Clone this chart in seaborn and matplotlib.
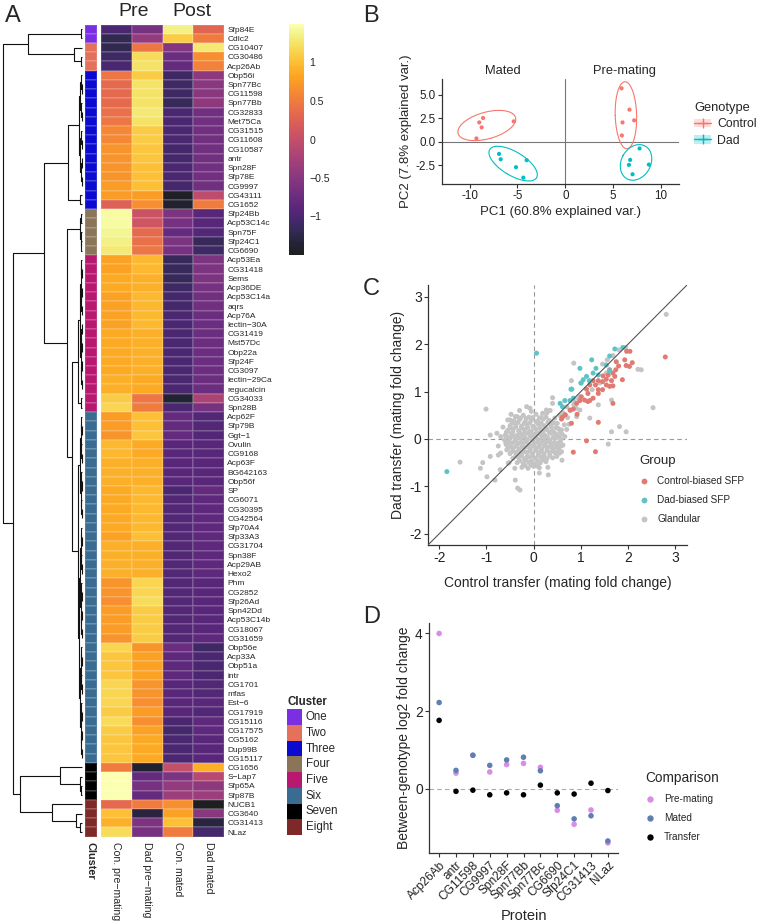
import numpy as np
import pandas as pd
import matplotlib
matplotlib.use("Agg")
import matplotlib.pyplot as plt
import seaborn as sns
from matplotlib.colors import ListedColormap
from matplotlib.lines import Line2D
from matplotlib.patches import Patch, Rectangle

sns.set_theme(style="ticks")
plt.rcParams["font.family"] = ["Liberation Sans", "DejaVu Sans"]
plt.rcParams["axes.unicode_minus"] = False

# =========================
# DATA - panel A (row-scaled abundance)
# =========================
genes = ["Sfp84E", "Cdlc2", "CG10407", "CG30486", "Acp26Ab", "Obp56i", "Spn77Bc", "CG11598",
         "Spn77Bb", "CG32833", "Met75Ca", "CG31515", "CG11608", "CG10587", "antr", "Spn28F",
         "Sfp78E", "CG9997", "CG43111", "CG1652", "Sfp24Bb", "Acp53C14c", "Spn75F", "Sfp24C1",
         "CG6690", "Acp53Ea", "CG31418", "Sems", "Acp36DE", "Acp53C14a", "aqrs", "Acp76A",
         "lectin\u221230A", "CG31419", "Mst57Dc", "Obp22a", "Sfp24F", "CG3097", "lectin\u221229Ca",
         "regucalcin", "CG34033", "Spn28B", "Acp62F", "Sfp79B", "Ggt\u22121", "Ovulin", "CG9168",
         "Acp63F", "BG642163", "Obp56f", "SP", "CG6071", "CG30395", "CG42564", "Sfp70A4",
         "Sfp33A3", "CG31704", "Spn38F", "Acp29AB", "Hexo2", "Phm", "CG2852", "Sfp26Ad",
         "Spn42Dd", "Acp53C14b", "CG18067", "CG31659", "Obp56e", "Acp33A", "Obp51a", "intr",
         "CG1701", "mfas", "Est\u22126", "CG17919", "CG15116", "CG17575", "CG5162", "Dup99B",
         "CG15117", "CG1656", "S\u2212Lap7", "Sfp65A", "Sfp87B", "NUCB1", "CG3640", "CG31413", "NLaz"]

cluster_names = ["One", "Two", "Three", "Four", "Five", "Six", "Seven", "Eight"]
cluster_sizes = [2, 3, 15, 5, 17, 38, 4, 4]
cluster_colors = ["#7B2FE3", "#E5715B", "#0A0AD0", "#8B7558", "#B8186F", "#3A6C92", "#000000", "#7E2828"]

con_pre = [-1.0, -1.2, -1.2, -1.1, -1.0, 0.45, 0.35, 0.35, 0.35, 0.4, 0.45, 0.6, 0.6, 0.7, 0.7, 0.7,
           0.7, 0.75, 0.75, 0.25, 1.45, 1.45, 1.4, 1.35, 1.3, 0.8, 0.8, 0.85, 0.85, 0.8, 0.8, 0.8,
           0.8, 0.85, 0.85, 0.85, 0.85, 0.85, 0.9, 0.9, 1.1, 1.15, 0.75, 0.75, 0.7, 0.95, 0.95,
           0.9, 0.9, 0.9, 0.85, 0.85, 0.85, 0.85, 0.85, 0.8, 0.9, 0.9, 0.9, 0.9, 0.7, 0.7, 0.65,
           0.75, 0.75, 0.75, 0.7, 1.15, 1.05, 1.05, 1.05, 1.15, 1.15, 1.15, 1.1, 1.2, 1.1, 1.05,
           1.05, 1.05, 0.5, 1.5, 1.5, 1.5, 0.35, 1.0, 0.9, 1.2]
dad_pre = [-0.65, -0.4, 0.45, 1.2, 1.25, 1.1, 1.25, 1.25, 1.25, 1.3, 1.25, 1.1, 1.1, 1.05, 1.05, 1.0,
           1.0, 1.0, 0.75, 0.65, 0.05, 0.1, 0.35, 0.4, 0.45, 0.95, 0.95, 0.9, 0.9, 0.95, 0.95, 0.95,
           0.95, 0.9, 0.9, 0.9, 0.9, 0.9, 0.85, 0.85, 0.45, 0.5, 1.0, 1.0, 1.05, 0.85, 0.85,
           0.9, 0.9, 0.9, 0.95, 0.95, 0.95, 0.95, 0.95, 1.0, 0.9, 0.9, 0.9, 0.9, 1.15, 1.15, 1.2,
           1.1, 1.1, 1.1, 1.1, 0.7, 0.8, 0.8, 0.8, 0.7, 0.7, 0.65, 0.75, 0.65, 0.8, 0.85,
           0.85, 0.85, -1.4, -0.8, -0.65, -0.8, 0.5, -1.3, -0.6, -0.65]
con_mated = [1.35, 1.1, -0.55, -0.75, -0.8, -1.1, -1.1, -1.1, -1.15, -1.0, -1.0, -1.0, -1.0, -1.05,
             -1.05, -1.0, -1.0, -1.05, -1.45, -1.4, -0.6, -0.65, -0.8, -0.6, -0.65, -1.15, -1.15,
             -1.15, -1.1, -1.05, -1.05, -1.0, -1.0, -1.0, -1.0, -1.0, -1.0, -1.0, -1.0, -1.0, -1.35,
             -1.0, -0.8, -0.8, -0.8, -0.9, -0.9, -0.9, -0.9, -0.9, -1.0, -0.95, -0.95, -0.95, -0.95,
             -0.95, -0.95, -0.95, -0.95, -0.95, -0.95, -0.95, -0.95, -0.95, -0.95, -0.95, -0.95,
             -0.75, -0.85, -0.85, -0.85, -0.9, -0.9, -0.9, -0.9, -1.0, -1.05, -1.0, -1.0, -1.0,
             0.0, -0.6, -0.4, -0.35, 0.65, 0.8, 1.0, 0.5]
dad_mated = [0.3, 0.5, 1.3, 0.65, 0.55, -0.45, -0.5, -0.5, -0.45, -0.7, -0.7, -0.7, -0.7, -0.7, -0.7,
             -0.7, -0.7, -0.7, -0.05, 0.5, -0.9, -0.9, -0.95, -1.15, -1.1, -0.6, -0.6, -0.6, -0.65,
             -0.7, -0.7, -0.75, -0.75, -0.75, -0.75, -0.75, -0.75, -0.75, -0.75, -0.75, -0.2, -0.65,
             -0.95, -0.95, -0.95, -0.9, -0.9, -0.9, -0.9, -0.9, -0.8, -0.85, -0.85, -0.85, -0.85,
             -0.85, -0.85, -0.85, -0.85, -0.85, -0.9, -0.9, -0.9, -0.9, -0.9, -0.9, -0.85, -1.1,
             -1.0, -1.0, -1.0, -0.95, -0.95, -0.9, -0.95, -0.85, -0.85, -0.9, -0.9, -0.9, 0.9,
             -0.1, -0.45, -0.35, -1.5, -0.5, -1.3, -1.05]
sample_labels = ["Con. pre\u2212mating", "Dad pre\u2212mating", "Con. mated", "Dad mated"]

# =========================
# DATA - panel B (PCA)
# =========================
pc1 = [-8.6, -9.0, -8.75, -5.4, -9.3, -6.93, -6.76, -5.16, -4.04, -4.39,
       5.89, 6.72, 7.21, 5.99, 5.92, 7.77, 6.79, 6.66, 8.75, 7.04]
pc2 = [2.54, 2.07, 1.54, 2.18, 0.36, -1.29, -1.86, -2.71, -1.96, -3.82,
       5.71, 3.43, 2.29, 2.07, 0.68, -0.71, -1.93, -2.46, -2.43, -3.46]
genotype = ["Control"] * 5 + ["Dad"] * 5 + ["Control"] * 5 + ["Dad"] * 5
stage = ["Mated"] * 10 + ["Pre-mating"] * 10

# =========================
# DATA - panel C (transfer fold changes)
# =========================
glandular_x = [-0.35, -0.22, -0.1, 0.05, 0.15, 0.28, -0.05,
               -0.42, -0.3, -0.18, -0.05, 0.08, 0.2, 0.33, 0.45,
               -0.5, -0.38, -0.26, -0.14, -0.02, 0.1, 0.22, 0.36, 0.5,
               -0.55, -0.44, -0.32, -0.2, -0.08, 0.04, 0.16, 0.28, 0.4, 0.52,
               -0.6, -0.48, -0.36, -0.24, -0.12, 0.0, 0.12, 0.24, 0.36, 0.48, 0.6,
               -0.62, -0.5, -0.38, -0.26, -0.14, -0.02, 0.1, 0.22, 0.34, 0.46, 0.58,
               -0.58, -0.46, -0.34, -0.22, -0.1, 0.02, 0.14, 0.26, 0.38, 0.5, 0.62,
               -0.55, -0.43, -0.31, -0.19, -0.07, 0.05, 0.17, 0.29, 0.41, 0.53,
               -0.5, -0.38, -0.26, -0.14, -0.02, 0.1, 0.22, 0.34, 0.46,
               -0.44, -0.32, -0.2, -0.08, 0.04, 0.16, 0.28, 0.4,
               -0.35, -0.22, -0.1, 0.02, 0.14, 0.26,
               -0.25, -0.12, 0.0, 0.12,
               -0.28, -0.16, -0.02, 0.12, 0.26,
               -0.45, -0.33, -0.2, -0.08, 0.05, 0.16, 0.3, 0.42,
               -0.5, -0.38, -0.26, -0.13, 0.0, 0.13, 0.25, 0.37, 0.47,
               -0.58, -0.44, -0.3, -0.18, -0.05, 0.07, 0.2, 0.33, 0.44, 0.56,
               -0.56, -0.43, -0.31, -0.19, -0.07, 0.05, 0.17, 0.29, 0.41, 0.53,
               -0.53, -0.4, -0.28, -0.16, -0.04, 0.08, 0.2, 0.32, 0.44, 0.56,
               -0.5, -0.37, -0.25, -0.13, -0.01, 0.11, 0.23, 0.35, 0.47, 0.58,
               -0.45, -0.32, -0.2, -0.08, 0.04, 0.16, 0.28, 0.4, 0.5,
               -0.38, -0.26, -0.14, -0.02, 0.1, 0.22, 0.34,
               -0.3, -0.16, -0.04, 0.08, 0.2,
               -0.18, -0.06, 0.06,
               0.65, 0.72, 0.78, 0.62, 0.55, 0.7, 0.85, 0.9, 0.95, 0.55, 0.6, 0.3, 0.12, -0.4,
               -0.52, -0.7, -0.75, -0.7, -0.65, -0.55, -0.48, -0.3, 0.35, 0.4,
               -1.01, 2.53, 2.81, 2.28, 2.21, 1.95, 1.68, 1.56, 1.46, 0.85, 0.8, 1.01, 0.4, 1.65,
               1.37, 1.82, 1.96, 1.65, 1.58, 1.19, 0.31, -0.29, -0.34, -0.39, -1.56, -1.08, -0.99,
               -0.82, -0.92, -0.78, -0.59, -0.54, -0.71, -1.13, -0.92, -0.75, -0.57, -0.39, -0.5,
               -0.15, -0.08, 0.19, 0.27, 0.7, 0.87, 0.98, 1.24, 1.4, 1.54, 1.81, 0.98, 0.91, 0.75,
               0.59, 0.66, 0.56, 0.59, 0.49, 0.13]
glandular_y = [0.47, 0.5, 0.46, 0.52, 0.45, 0.55, 0.58,
               0.38, 0.41, 0.36, 0.4, 0.37, 0.42, 0.39, 0.44,
               0.28, 0.31, 0.27, 0.3, 0.26, 0.31, 0.28, 0.3, 0.33,
               0.18, 0.21, 0.17, 0.2, 0.16, 0.21, 0.18, 0.2, 0.17, 0.22,
               0.08, 0.11, 0.07, 0.1, 0.12, 0.08, 0.11, 0.07, 0.12, 0.09, 0.1,
               -0.02, 0.01, -0.03, 0.02, -0.01, 0.02, -0.02, 0.01, -0.03, 0.02, -0.01,
               -0.12, -0.09, -0.11, -0.08, -0.12, -0.09, -0.11, -0.08, -0.12, -0.1, -0.13,
               -0.21, -0.19, -0.22, -0.18, -0.21, -0.19, -0.22, -0.18, -0.21, -0.2,
               -0.31, -0.29, -0.32, -0.28, -0.31, -0.29, -0.32, -0.28, -0.3,
               -0.41, -0.39, -0.42, -0.38, -0.41, -0.39, -0.42, -0.4,
               -0.5, -0.52, -0.49, -0.53, -0.5, -0.48,
               -0.6, -0.62, -0.58, -0.61,
               0.44, 0.43, 0.45, 0.44, 0.46,
               0.34, 0.35, 0.33, 0.34, 0.36, 0.33, 0.35, 0.34,
               0.24, 0.25, 0.23, 0.24, 0.26, 0.23, 0.24, 0.25, 0.24,
               0.14, 0.15, 0.13, 0.14, 0.16, 0.13, 0.15, 0.14, 0.13, 0.15,
               0.04, 0.05, 0.03, 0.04, 0.06, 0.03, 0.05, 0.04, 0.03, 0.05,
               -0.06, -0.05, -0.07, -0.06, -0.04, -0.07, -0.05, -0.06, -0.07, -0.05,
               -0.16, -0.15, -0.17, -0.16, -0.14, -0.17, -0.15, -0.16, -0.17, -0.15,
               -0.26, -0.25, -0.27, -0.26, -0.24, -0.27, -0.25, -0.26, -0.27,
               -0.36, -0.35, -0.37, -0.36, -0.34, -0.37, -0.35,
               -0.46, -0.45, -0.47, -0.46, -0.44,
               -0.56, -0.55, -0.57,
               0.3, 0.45, 0.6, 0.55, 0.5, 0.2, 0.72, 0.65, 0.85, -0.3, -0.45, -0.6, -0.72, -0.62,
               -0.5, -0.3, -0.15, 0.05, 0.25, 0.4, 0.52, 0.6, 0.6, 0.75,
               0.63, 0.66, 2.63, 1.46, 1.47, 1.93, 1.76, 1.67, 1.58, 1.6, 1.23, 1.18, 0.87, 0.82,
               0.72, 0.26, 0.15, 0.15, -0.11, 0.44, -0.76, -1.08, -1.04, -0.87, -0.49, -0.5, -0.8,
               -0.87, 0.08, 0.12, -0.09, -0.51, -0.65, -0.62, -0.37, -0.34, -0.23, 0.47, 0.4,
               0.68, 0.65, 0.54, 0.61, 0.68, 0.77, 0.89, 1.04, 1.18, 1.39, 1.88, 0.61, 0.47, 0.31,
               0.19, 0.05, -0.09, -0.27, -0.37, -0.51]
control_sfp_x = [1.97, 2.04, 2.79, 1.93, 2.09, 1.96, 2.03, 1.8, 1.75, 1.74, 1.68, 1.61, 1.58, 1.54,
                 1.47, 1.46, 1.72, 1.88, 1.65, 1.37, 1.26, 1.31, 1.19, 1.54, 1.68, 1.37, 1.12, 1.15,
                 1.01, 1.08, 1.15, 1.19, 1.26, 0.98, 0.91, 1.68, 0.92, 0.84, 0.77, 0.61, 0.67, 0.59,
                 0.8, 1.37, 1.12, 0.84, 1.31, 1.37, 1.46, 1.61]
control_sfp_y = [1.85, 1.85, 1.73, 1.67, 1.61, 1.55, 1.53, 1.54, 1.63, 1.46, 1.39, 1.46, 1.35, 1.26,
                 1.33, 1.21, 1.32, 1.25, 1.23, 1.23, 1.23, 1.14, 1.14, 1.14, 1.12, 1.04, 1.05, 0.96,
                 0.89, 0.82, 0.79, 0.81, 0.86, 0.81, 0.75, 0.75, 0.52, 0.63, 0.61, 0.46, 0.51, 0.42,
                 0.33, 0.35, -0.04, -0.28, -0.27, 0.96, 1.04, 1.11]
dad_sfp_x = [0.06, 1.89, 1.72, 1.61, 1.23, 0.98, 1.32, 1.26, 1.37, 1.54, 1.18, 1.12, 1.0, 0.79,
             0.81, 0.84, 0.77, 0.66, 0.56, 0.61, -1.84, 1.05, 1.61]
dad_sfp_y = [1.81, 1.93, 1.9, 1.75, 1.67, 1.49, 1.49, 1.39, 1.35, 1.56, 1.23, 1.32, 1.18, 1.05,
             1.05, 0.86, 0.81, 0.81, 0.75, 0.68, -0.69, 1.25, 1.44]

# =========================
# DATA - panel D (between-genotype fold change)
# =========================
proteins = ["Acp26Ab", "antr", "CG11598", "CG9997", "Spn28F", "Spn77Bb", "Spn77Bc",
            "CG6690", "Sfp24C1", "CG31413", "NLaz"]
fc_premating = [4.0, 0.4, 0.86, 0.43, 0.62, 0.65, 0.55, -0.56, -0.92, -0.55, -1.4]
fc_mated = [2.22, 0.47, 0.86, 0.6, 0.74, 0.81, 0.46, -0.44, -0.78, -0.7, -1.35]
fc_transfer = [1.76, -0.07, -0.04, -0.16, -0.11, -0.16, 0.09, -0.11, -0.14, 0.14, -0.05]

# =========================
# FIGURE
# =========================
W, H = 762, 924
fig = plt.figure(figsize=(W / 100, H / 100), dpi=100)


def box(x0, y0, x1, y1):
    # pixel box (top-left origin) -> figure fraction rect
    return [x0 / W, 1 - y1 / H, (x1 - x0) / W, (y1 - y0) / H]


axis_col = "#333333"
tick_col = "#333333"

# ---------- A: heatmap ----------
hm_top, hm_bot = 24.5, 836.7
ax_hm = fig.add_axes(box(101, hm_top, 224, hm_bot))
ax_cl = fig.add_axes(box(85, hm_top, 97, hm_bot))
ax_dn = fig.add_axes(box(2, hm_top, 85, hm_bot))
ax_cb = fig.add_axes(box(289, 24, 304, 255))

# inferno, slightly washed out like the original
base = plt.get_cmap("inferno")(np.linspace(0, 1, 256))
base[:, :3] = base[:, :3] * 0.88 + 0.12
cmap = ListedColormap(base)
df_hm = pd.DataFrame({sample_labels[0]: con_pre, sample_labels[1]: dad_pre,
                      sample_labels[2]: con_mated, sample_labels[3]: dad_mated}, index=genes)
sns.heatmap(df_hm, ax=ax_hm, cmap=cmap, vmin=-1.5, vmax=1.5, cbar_ax=ax_cb,
            xticklabels=True, yticklabels=True, linewidths=0.15, linecolor="#ffffff22")
ax_hm.yaxis.tick_right()
ax_hm.tick_params(axis="y", length=0, pad=2.5, labelsize=6.0, labelrotation=0)
ax_hm.tick_params(axis="x", length=0, pad=4, labelsize=7.6, labelrotation=270)
for t in ax_hm.get_xticklabels():
    t.set_va("top")
ax_hm.set_xlabel("")
ax_hm.set_ylabel("")

ax_cb.set_yticks([-1, -0.5, 0, 0.5, 1])
ax_cb.set_yticklabels(["\u22121", "\u22120.5", "0", "0.5", "1"])
ax_cb.tick_params(length=0, labelsize=7.6, pad=4)
for s in ax_cb.spines.values():
    s.set_visible(False)

cluster_idx = []
for i, n in enumerate(cluster_sizes):
    cluster_idx += [i] * n
sns.heatmap(pd.DataFrame({"Cluster": cluster_idx}), ax=ax_cl, cmap=ListedColormap(cluster_colors),
            vmin=-0.5, vmax=7.5, cbar=False, yticklabels=False, xticklabels=True,
            linewidths=0.15, linecolor="#ffffff22")
ax_cl.tick_params(axis="x", length=0, pad=4, labelsize=7.8, labelrotation=270)
for t in ax_cl.get_xticklabels():
    t.set_va("top")
    t.set_fontweight("bold")
ax_cl.set_ylabel("")

# row dendrogram (node = (height, left, right), leaf = row index)
def bush(rows, h):
    rows = list(rows)
    if len(rows) == 1:
        return rows[0]
    mid = len(rows) // 2
    return (h, bush(rows[:mid], h * 0.55), bush(rows[mid:], h * 0.55))


tree_one = (1.2, 0, 1)
tree_two = (8, 2, (1.2, 3, 4))
tree_three = (14, bush(range(5, 18), 3), (2, 18, 19))
tree_four = bush(range(20, 25), 2)
tree_five = (4, bush(range(25, 40), 2.5), (1.5, 40, 41))
tree_six = (4, bush(range(42, 54), 2.5), (3, bush(range(54, 67), 2), bush(range(67, 80), 2)))
tree_seven = (22, 80, bush([81, 82, 83], 2))
tree_eight = (30, 84, (6, 85, (2, 86, 87)))
tree = (79.3, (54, tree_one, tree_two),
        (69, (38, tree_three, (15, tree_four, (10, tree_five, tree_six))),
         (62, tree_seven, tree_eight)))


def draw_tree(node, ax):
    if isinstance(node, int):
        return node + 0.5, 0.0
    h, left, right = node
    yl, hl = draw_tree(left, ax)
    yr, hr = draw_tree(right, ax)
    ax.plot([hl, h, h, hr], [yl, yl, yr, yr], color="#111111", lw=0.8, solid_capstyle="butt")
    return (yl + yr) / 2, h


draw_tree(tree, ax_dn)
ax_dn.set_xlim(80, -3)
ax_dn.set_ylim(len(genes), 0)
ax_dn.axis("off")

fig.text(134 / W, 1 - 11 / H, "Pre", fontsize=14, ha="center", va="center")
fig.text(192 / W, 1 - 11 / H, "Post", fontsize=14, ha="center", va="center")

# cluster legend
fig.text(287 / W, 1 - 702 / H, "Cluster", fontsize=8.3, fontweight="bold", va="center")
for i, (name, col) in enumerate(zip(cluster_names, cluster_colors)):
    y_top = 709 + 15.75 * i
    fig.patches.append(Rectangle((287 / W, 1 - (y_top + 15.75) / H), 15 / W, 15.75 / H,
                                 transform=fig.transFigure, facecolor=col, edgecolor="none"))
    fig.text(306 / W, 1 - (y_top + 8) / H, name, fontsize=8.3, va="center")

# ---------- B: PCA ----------
ax_b = fig.add_axes(box(442, 79, 679, 184))
df_b = pd.DataFrame({"PC1": pc1, "PC2": pc2, "Genotype": genotype, "Stage": stage})
pal_b = {"Control": "#F8766D", "Dad": "#00BFC4"}
ax_b.axhline(0, color="#777777", lw=0.8, zorder=0)
ax_b.axvline(0, color="#777777", lw=0.8, zorder=0)
sns.scatterplot(data=df_b, x="PC1", y="PC2", hue="Genotype", palette=pal_b, s=9,
                edgecolor="none", legend=False, ax=ax_b)
theta = np.linspace(0, 2 * np.pi, 200)
for (g, st), sub in df_b.groupby(["Genotype", "Stage"]):
    pts = sub[["PC1", "PC2"]].to_numpy()
    mu = pts.mean(axis=0)
    vals, vecs = np.linalg.eigh(np.cov(pts.T))
    circ = np.vstack([np.cos(theta), np.sin(theta)])
    ell = vecs @ (np.sqrt(vals)[:, None] * circ) * 1.9
    ax_b.plot(ell[0] + mu[0], ell[1] + mu[1], color=pal_b[g], lw=0.8)
ax_b.set_xlim(-12.9, 11.9)
ax_b.set_ylim(-4.5, 6.7)
ax_b.set_xticks([-10, -5, 0, 5, 10])
ax_b.set_yticks([-2.5, 0, 2.5, 5.0])
ax_b.set_yticklabels(["-2.5", "0.0", "2.5", "5.0"])
ax_b.set_xlabel("PC1 (60.8% explained var.)", fontsize=9.5, labelpad=3)
ax_b.set_ylabel("PC2 (7.8% explained var.)", fontsize=9.5, labelpad=3)
ax_b.text(-6.5, 7.6, "Mated", fontsize=9.3, ha="center", va="center", clip_on=False)
ax_b.text(6.2, 7.6, "Pre-mating", fontsize=9.3, ha="center", va="center", clip_on=False)
h_ctrl = (Patch(facecolor="#F8766D", alpha=0.25, edgecolor="none"),
          Line2D([], [], color="#F8766D", marker="+", markersize=7, lw=1))
h_dad = (Patch(facecolor="#00BFC4", alpha=0.25, edgecolor="none"),
         Line2D([], [], color="#00BFC4", marker="+", markersize=7, lw=1))
leg_b = ax_b.legend([h_ctrl, h_dad], ["Control", "Dad"], title="Genotype", frameon=False,
                    fontsize=8.8, title_fontsize=9.3, loc="upper left",
                    bbox_to_anchor=(688 / W, 1 - 96 / H), bbox_transform=fig.transFigure,
                    handlelength=1.4, handletextpad=0.5, borderpad=0, labelspacing=0.35)
leg_b._legend_box.align = "left"

# ---------- C: transfer scatter ----------
ax_c = fig.add_axes(box(428, 285, 687, 545))
df_c = pd.DataFrame({
    "control": glandular_x + control_sfp_x + dad_sfp_x,
    "dad": glandular_y + control_sfp_y + dad_sfp_y,
    "Group": ["Glandular"] * len(glandular_x) + ["Control-biased SFP"] * len(control_sfp_x)
             + ["Dad-biased SFP"] * len(dad_sfp_x)})
pal_c = {"Control-biased SFP": "#E07A72", "Dad-biased SFP": "#5CC3C6", "Glandular": "#C4C4C4"}
lims = (-2.24, 3.25)
ax_c.axhline(0, color="#999999", lw=0.8, ls=(0, (4, 3)), zorder=0)
ax_c.axvline(0, color="#999999", lw=0.8, ls=(0, (4, 3)), zorder=0)
sns.scatterplot(data=df_c, x="control", y="dad", hue="Group", palette=pal_c, s=13,
                edgecolor="none", legend=False, ax=ax_c, zorder=2)
ax_c.plot(lims, lims, color="#555555", lw=0.8, zorder=3)
ax_c.set_xlim(lims)
ax_c.set_ylim(lims)
ax_c.set_xticks([-2, -1, 0, 1, 2, 3])
ax_c.set_yticks([-2, -1, 0, 1, 2, 3])
ax_c.set_xlabel("Control transfer (mating fold change)", fontsize=10, labelpad=8)
ax_c.set_ylabel("Dad transfer (mating fold change)", fontsize=10, labelpad=3)
hc = [Line2D([], [], ls="", marker="o", markersize=4.2, markerfacecolor=pal_c[k],
             markeredgecolor="none") for k in pal_c]
leg_c = ax_c.legend(hc, list(pal_c), title="Group", frameon=False, fontsize=7.2,
                    title_fontsize=9.5, loc="upper left", bbox_to_anchor=(634 / W, 1 - 450 / H),
                    bbox_transform=fig.transFigure, handlelength=1.0, handletextpad=0.8,
                    borderpad=0, labelspacing=0.9)
leg_c._legend_box.align = "left"

# ---------- D: fold change by protein ----------
ax_d = fig.add_axes(box(429, 623, 618, 853))
df_d = pd.DataFrame({
    "Protein": proteins * 3,
    "value": fc_premating + fc_mated + fc_transfer,
    "Comparison": ["Pre-mating"] * 11 + ["Mated"] * 11 + ["Transfer"] * 11})
pal_d = {"Pre-mating": "#D98BE8", "Mated": "#5E7FAF", "Transfer": "#000000"}
ax_d.axhline(0, color="#aaaaaa", lw=0.8, ls=(0, (4, 3)), zorder=0)
sns.stripplot(data=df_d, x="Protein", y="value", hue="Comparison", order=proteins,
              hue_order=list(pal_d), palette=pal_d, jitter=False, dodge=False, size=4,
              linewidth=0, legend=False, ax=ax_d, zorder=2)
ax_d.set_xlim(-0.6, 10.6)
ax_d.set_ylim(-1.66, 4.27)
ax_d.set_yticks([0, 2, 4])
ax_d.set_xlabel("Protein", fontsize=10.5, labelpad=4)
ax_d.set_ylabel("Between-genotype log2 fold change", fontsize=10, labelpad=3)
for t in ax_d.get_xticklabels():
    t.set_rotation(45)
    t.set_ha("right")
    t.set_rotation_mode("anchor")
    t.set_fontsize(8.6)
hd = [Line2D([], [], ls="", marker="o", markersize=4.6, markerfacecolor=pal_d[k],
             markeredgecolor="none") for k in pal_d]
leg_d = ax_d.legend(hd, list(pal_d), title="Comparison", frameon=False, fontsize=7.2,
                    title_fontsize=9.8, loc="upper left", bbox_to_anchor=(640 / W, 1 - 766 / H),
                    bbox_transform=fig.transFigure, handlelength=1.0, handletextpad=0.9,
                    borderpad=0, labelspacing=0.9)
leg_d._legend_box.align = "left"

for ax in (ax_b, ax_c, ax_d):
    sns.despine(ax=ax)
    for s in ("left", "bottom"):
        ax.spines[s].set_color(axis_col)
        ax.spines[s].set_linewidth(0.9)
    ax.tick_params(colors=tick_col, width=0.8, length=3)
    ax.tick_params(labelcolor="#222222")
ax_b.tick_params(labelsize=8.4, pad=1.5)
ax_c.tick_params(labelsize=10, pad=1.5)
ax_d.tick_params(axis="y", labelsize=10, pad=1.5)
ax_d.tick_params(axis="x", pad=1.5)

# panel letters
for letter, (px, py) in {"A": (5, 16), "B": (363, 16), "C": (363, 289), "D": (363, 617)}.items():
    fig.text(px / W, 1 - py / H, letter, fontsize=17, va="center", ha="left")

fig.savefig("out.png", dpi=100)
